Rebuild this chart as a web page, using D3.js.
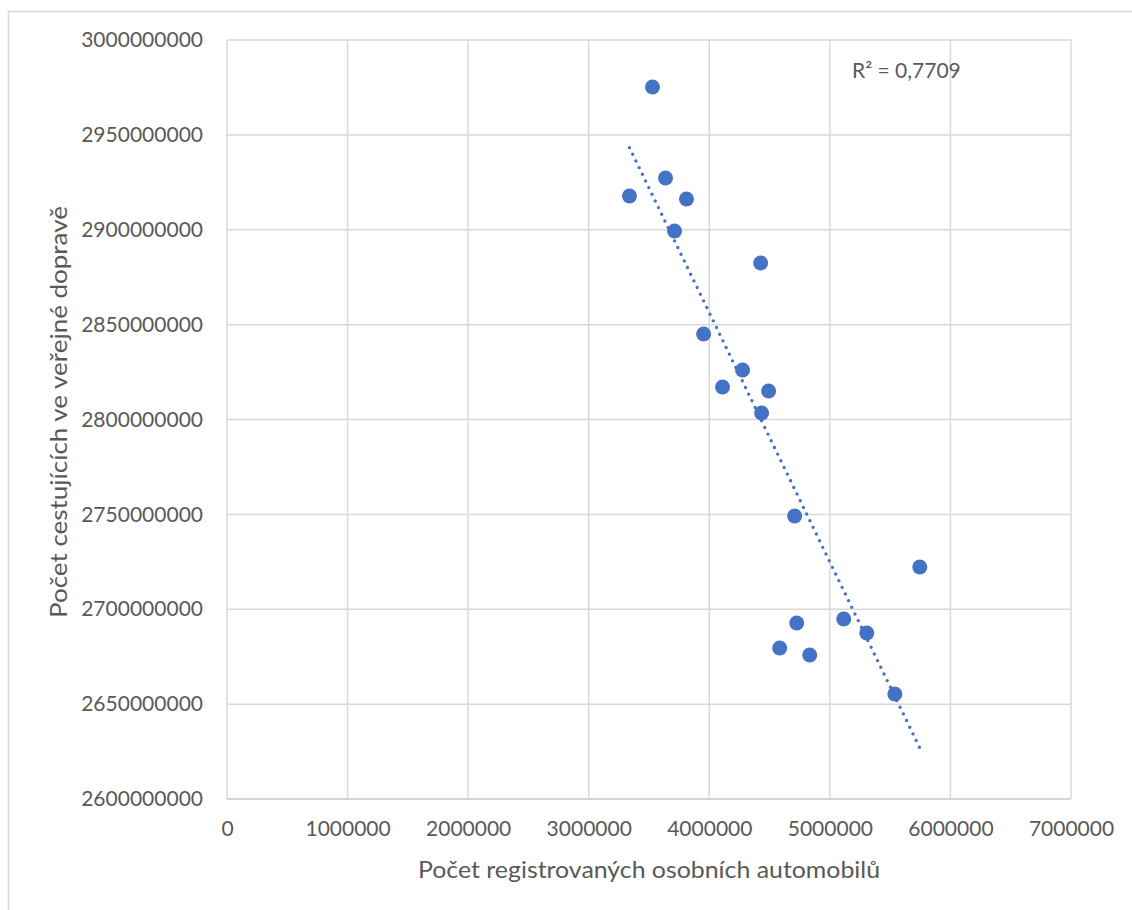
<!DOCTYPE html>
<html>
<head>
<meta charset="utf-8">
<script src="https://cdn.jsdelivr.net/npm/d3@7"></script>
<style>
  html, body { margin: 0; padding: 0; background: #fff; }
  svg { display: block; }
  text { font-family: Lato, "Open Sans", sans-serif; fill: #595959; }
</style>
</head>
<body>
<script>
// ---- data ----
const cars = [3529000, 3637000, 3338000, 3811000, 3712000, 4426000, 3953000, 4276000, 4110000, 4492000, 4434000, 4708000, 5746000, 4725000, 5115000, 5306000, 4584000, 4833000, 5539000];
const passengers = [2975230000, 2927270000, 2917790000, 2916200000, 2899340000, 2882480000, 2845060000, 2826090000, 2817130000, 2815020000, 2803430000, 2749150000, 2722270000, 2692750000, 2694860000, 2687480000, 2679570000, 2675890000, 2655340000];
const xTicks = [0, 1000000, 2000000, 3000000, 4000000, 5000000, 6000000, 7000000];
const yTicks = [2600000000, 2650000000, 2700000000, 2750000000, 2800000000, 2850000000, 2900000000, 2950000000, 3000000000];
const xTitle = "Počet registrovaných osobních automobilů";
const yTitle = "Počet cestujících ve veřejné dopravě";
const r2Label = "R² = 0,7709";

const W = 1132, H = 910;
const plot = { left: 227, right: 1071, top: 40, bottom: 799 };

const svg = d3.select("body").append("svg").attr("width", W).attr("height", H);

// outer chart border
svg.append("rect").attr("x", 8.5).attr("y", 11.5).attr("width", W).attr("height", H)
  .attr("fill", "none").attr("stroke", "#d9d9d9").attr("stroke-width", 1.5);

const x = d3.scaleLinear().domain([0, 7000000]).range([plot.left, plot.right]);
const y = d3.scaleLinear().domain([2600000000, 3000000000]).range([plot.bottom, plot.top]);

// gridlines
const grid = svg.append("g");
grid.selectAll("line.v").data(xTicks).join("line")
  .attr("x1", d => x(d)).attr("x2", d => x(d)).attr("y1", plot.top).attr("y2", plot.bottom)
  .attr("stroke", "#d9d9d9").attr("stroke-width", 1.5);
grid.selectAll("line.h").data(yTicks).join("line")
  .attr("y1", d => y(d)).attr("y2", d => y(d)).attr("x1", plot.left).attr("x2", plot.right)
  .attr("stroke", d => d === 2600000000 ? "#c8c8c8" : "#d9d9d9").attr("stroke-width", 1.5);

// axes labels via d3 axes
const xAxis = svg.append("g").attr("transform", `translate(0,${plot.bottom})`)
  .call(d3.axisBottom(x).tickValues(xTicks).tickFormat(d3.format("d")).tickSize(0).tickPadding(22));
xAxis.select(".domain").remove();
xAxis.selectAll("text").attr("font-size", 21).attr("fill", "#595959").style("font-family", "Lato, sans-serif");

const yAxis = svg.append("g").attr("transform", `translate(${plot.left},0)`)
  .call(d3.axisLeft(y).tickValues(yTicks).tickFormat(d3.format("d")).tickSize(0).tickPadding(24));
yAxis.select(".domain").remove();
yAxis.selectAll("text").attr("font-size", 21).attr("fill", "#595959").style("font-family", "Lato, sans-serif");

// titles
svg.append("text").attr("x", (plot.left + plot.right) / 2).attr("y", 878)
  .attr("text-anchor", "middle").attr("font-size", 23)
  .attr("textLength", 462).attr("lengthAdjust", "spacingAndGlyphs").text(xTitle);
svg.append("text").attr("transform", `translate(67,412) rotate(-90)`)
  .attr("text-anchor", "middle").attr("font-size", 23)
  .attr("textLength", 412).attr("lengthAdjust", "spacingAndGlyphs").text(yTitle);

// linear trendline (least squares)
const n = cars.length;
const mx = d3.mean(cars), my = d3.mean(passengers);
let sxy = 0, sxx = 0;
for (let i = 0; i < n; i++) { sxy += (cars[i] - mx) * (passengers[i] - my); sxx += (cars[i] - mx) ** 2; }
const slope = sxy / sxx, intercept = my - slope * mx;
const [xmin, xmax] = d3.extent(cars);
svg.append("line")
  .attr("x1", x(xmin)).attr("y1", y(slope * xmin + intercept))
  .attr("x2", x(xmax)).attr("y2", y(slope * xmax + intercept))
  .attr("stroke", "#4472c4").attr("stroke-width", 3.4)
  .attr("stroke-linecap", "round").attr("stroke-dasharray", "0 7.4");

// points
svg.append("g").selectAll("circle").data(cars).join("circle")
  .attr("cx", (d) => x(d)).attr("cy", (d, i) => y(passengers[i]))
  .attr("r", 7.5).attr("fill", "#4472c4");

// R² label
svg.append("text").attr("x", 852).attr("y", 78).attr("font-size", 21).text(r2Label);
</script>
</body>
</html>
